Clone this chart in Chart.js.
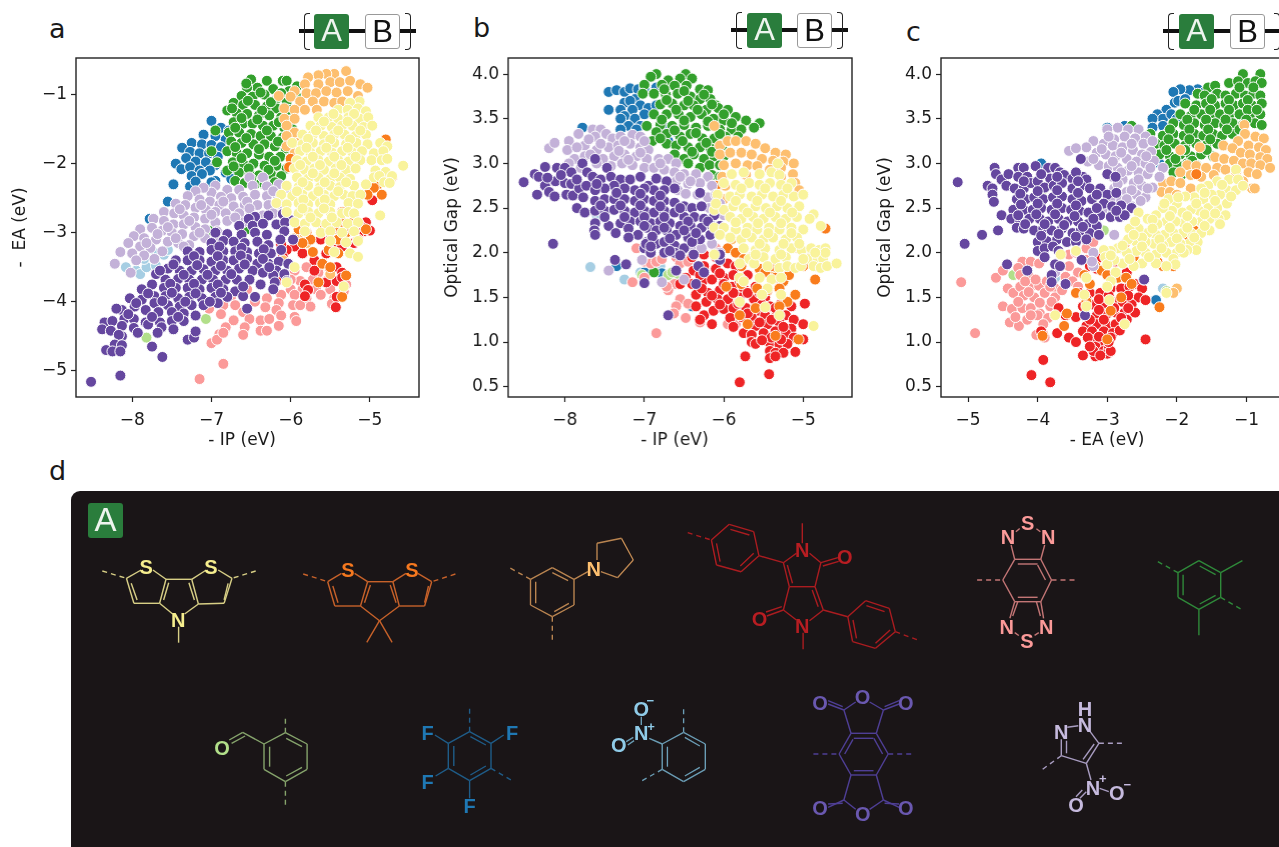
<!DOCTYPE html>
<html>
<head>
<meta charset="utf-8">
<title>IP, EA and optical gap by A block</title>
<script src="https://cdn.jsdelivr.net/npm/chart.js@4"></script>
<style>
  html, body { margin: 0; width: 1279px; height: 847px; overflow: hidden; background: #fff; }
  body { position: relative; font-family: "DejaVu Sans", sans-serif; color: #1a1a1a; }
  canvas { position: absolute; }
  .letter { position: absolute; font-size: 27px; line-height: 30px; }
  .bar { position: absolute; height: 4px; background: #111; top: 29px; }
  .brace { position: absolute; top: 13px; width: 6px; height: 37px; border: 1.8px solid #222; box-sizing: border-box; }
  .box { position: absolute; top: 14px; width: 35px; height: 35px; box-sizing: border-box; border-radius: 3px;
         font: 31px/34px "Liberation Sans", sans-serif; text-align: center; }
  .boxA { background: #2a7d3c; color: #eef5ee; }
  .boxB { background: #fff; color: #111; border: 1px solid #999; }
  #panel { position: absolute; left: 71px; top: 491px; width: 1240px; height: 400px; background: #1a1517; border-radius: 9px; }
  #mols { position: absolute; left: 0; top: 0; }
</style>
</head>
<body>
<div class="letter" style="left:49px;top:14px">a</div>
<div class="letter" style="left:473px;top:13px">b</div>
<div class="letter" style="left:906px;top:17px">c</div>
<div class="letter" style="left:49px;top:456px">d</div>
<canvas id="chartA"></canvas>
<canvas id="chartB"></canvas>
<canvas id="chartC"></canvas>
<div id="panel"></div>
<svg id="mols" width="1279" height="847"></svg>

<script>
const seriesColors = ['#a6cee3', '#1f78b4', '#b2df8a', '#33a02c', '#fb9a99', '#ee2426', '#fdbf6f', '#f97c1c', '#c3b1d8', '#65479f', '#f9f39b'];
const ipTicks = [-8, -7, -6, -5];
const eaTicks = [-5, -4, -3, -2, -1];
const gapTicks = [0.5, 1, 1.5, 2, 2.5, 3, 3.5, 4];

// panel a: [-IP, -EA]
const aLightBlue = [[-8.08,-3.5],[-7.95,-3.55],[-7.9,-3.6],[-7.82,-3.5],[-7.7,-3.48],[-7.85,-3.38],[-7.7,-3.3],[-7.6,-3.32],[-7.55,-3.25]];
const aBlue = [[-7,-1.38],[-6.88,-1.48],[-6.78,-1.52],[-7.1,-1.58],[-6.95,-1.6],[-6.82,-1.65],[-7.25,-1.7],[-7.12,-1.72],[-7,-1.73],[-6.88,-1.76],[-7.37,-1.77],[-7.27,-1.83],[-7.15,-1.85],[-7.03,-1.85],[-6.92,-1.9],[-7.32,-1.92],[-7.2,-1.97],[-7.07,-1.98],[-6.95,-2.02],[-7.45,-2],[-7.38,-2.08],[-7.27,-2.05],[-7.15,-2.1],[-7.02,-2.1],[-6.82,-2.13],[-7.25,-2.18],[-7.12,-2.15],[-6.72,-2.12],[-6.95,-2.25],[-7.48,-2.3],[-7.27,-2.33],[-7.2,-2.26],[-6.75,-2.22],[-7,-2.27],[-7.78,-2.8],[-7.55,-2.55]];
const aLightGreen = [[-7.07,-4.25],[-7.82,-4.52]];
const aGreen = [[-6.5,-.78],[-6.3,-.8],[-6.1,-.8],[-6.05,-.8],[-6.42,-.9],[-6.55,-.9],[-6.22,-.92],[-6.02,-.95],[-5.92,-.88],[-6.62,-1.02],[-6.48,-1.03],[-6.33,-1],[-6.17,-1.05],[-6.05,-1.1],[-5.93,-1.02],[-6.72,-1.12],[-6.6,-1.15],[-6.45,-1.15],[-6.3,-1.17],[-6.18,-1.2],[-6.03,-1.22],[-6.8,-1.23],[-6.68,-1.27],[-6.55,-1.28],[-6.4,-1.3],[-6.27,-1.3],[-6.12,-1.33],[-6,-1.38],[-6.72,-1.4],[-6.6,-1.42],[-6.48,-1.42],[-6.35,-1.45],[-6.22,-1.45],[-6.08,-1.48],[-5.98,-1.5],[-6.95,-1.52],[-6.78,-1.55],[-6.65,-1.55],[-6.5,-1.57],[-6.38,-1.6],[-6.25,-1.6],[-6.1,-1.62],[-6,-1.65],[-6.75,-1.68],[-6.62,-1.7],[-6.47,-1.72],[-6.33,-1.72],[-6.2,-1.75],[-6.06,-1.78],[-7,-1.82],[-6.8,-1.82],[-6.68,-1.85],[-6.55,-1.85],[-6.4,-1.87],[-6.27,-1.9],[-6.13,-1.9],[-6,-1.92],[-6.93,-1.98],[-6.73,-1.98],[-6.6,-2],[-6.47,-2],[-6.33,-2.03],[-6.18,-2.03],[-6.05,-2.07],[-6.8,-2.1],[-6.65,-2.13],[-6.52,-2.15],[-6.4,-2.17],[-6.25,-2.15],[-6.12,-2.18],[-6.7,-2.25],[-6.58,-2.28],[-6.45,-2.3],[-6.33,-2.3],[-6.2,-2.27],[-6.55,-2.95],[-7,-2.97],
  [-6.56,-.84],[-6.38,-.97],[-6.12,-.98],[-6.54,-1.09],[-6.25,-1.11],[-6.74,-1.2],[-6.36,-1.23],[-6.62,-1.34],[-6.42,-1.36],[-6.15,-1.4],[-6.7,-1.48],[-6.3,-1.52],[-6.56,-1.63],[-6.16,-1.68],[-6.7,-1.76],[-6.4,-1.79],[-6.62,-1.92],[-6.2,-1.96],[-6.53,-2.07],[-6.28,-2.09],[-6.72,-2.04],[-6.5,-2.22]];
const aPink = [[-5.95,-3.55],[-5.8,-3.5],[-5.65,-3.58],[-5.88,-3.7],[-6,-3.68],[-5.72,-3.68],[-5.55,-3.7],[-5.4,-3.7],[-6,-3.82],[-5.85,-3.82],[-5.68,-3.82],[-5.5,-3.82],[-5.3,-3.75],[-6.12,-3.9],[-5.95,-3.9],[-5.8,-3.95],[-5.62,-3.9],[-5.45,-3.95],[-5.33,-3.85],[-6.3,-3.95],[-6.15,-4.02],[-5.97,-4.05],[-5.75,-4.07],[-5.48,-4.03],[-6.65,-3.85],[-6.75,-3.92],[-6.55,-3.82],[-6.45,-4],[-6.32,-4.08],[-6.18,-4.12],[-5.88,-4.05],[-6.85,-4.05],[-6.7,-4.05],[-6.6,-4.15],[-7.03,-4.1],[-6.88,-4.18],[-6.72,-4.27],[-6.52,-4.25],[-6.38,-4.27],[-6.27,-4.25],[-6.12,-4.2],[-5.95,-4.22],[-5.93,-4.28],[-6.82,-4.37],[-6.58,-4.37],[-6.38,-4.42],[-6.3,-4.42],[-6.15,-4.35],[-6.9,-4.47],[-6.6,-4.48],[-7,-4.6],[-6.93,-4.55],[-6.85,-4.9],[-7.15,-5.12],[-6.85,-4.45]];
const aRed = [[-4.97,-2.53],[-5.05,-2.85],[-5.12,-2.9],[-5.08,-2.98],[-5,-2.97],[-5.15,-3.05],[-5.3,-3],[-5.5,-3.1],[-5.62,-3.1],[-5.8,-3.15],[-5.95,-3.2],[-6.05,-3.25],[-6.12,-3.17],[-6.1,-3.35],[-5.85,-3.3],[-5.7,-3.4],[-5.55,-3.3],[-5.45,-3.25],[-5.35,-3.2],[-5.2,-3.15],[-5.6,-3.45],[-5.5,-3.55],[-5.42,-3.5],[-5.35,-3.58],[-5.7,-3.55],[-5.82,-3.75],[-5.78,-3.83],[-5.82,-3.92],[-5.55,-3.72],[-5.42,-3.7],[-5.35,-3.65],[-5.42,-3.93],[-5.43,-4.08],[-6.15,-3.68]];
const aLightOrange = [[-5.3,-.66],[-5.45,-.7],[-5.55,-.7],[-5.65,-.72],[-5.78,-.75],[-5.82,-.85],[-5.65,-.85],[-5.5,-.82],[-5.38,-.82],[-5.25,-.8],[-5.12,-.85],[-5.03,-.9],[-5.95,-.95],[-5.8,-.98],[-5.68,-.98],[-5.55,-.95],[-5.42,-.97],[-5.28,-.95],[-5.15,-1.02],[-6.15,-1.02],[-6,-1.03],[-5.88,-1.1],[-5.72,-1.1],[-5.58,-1.1],[-5.45,-1.12],[-5.35,-1.1],[-6.08,-1.2],[-5.95,-1.22],[-5.82,-1.22],[-5.67,-1.22],[-6.08,-1.35],[-5.95,-1.35],[-6.05,-1.45],[-5.95,-1.55],[-6.05,-1.6],[-5.9,-1.7],[-6.05,-1.75],[-5.95,-1.85],[-5.85,-3],[-5.95,-3.08],[-5.8,-3.15],[-6.1,-3.4],[-5.5,-3.6]];
const aOrange = [[-6,-1.93],[-6.02,-2.05],[-4.8,-1.65],[-4.72,-2.2],[-4.82,-2.25],[-4.9,-2.3],[-4.85,-2.45],[-4.95,-2.35],[-5.03,-2.45],[-5.2,-2.75],[-5.22,-2.85],[-5.35,-2.85],[-5.05,-2.95],[-5.3,-3],[-5.45,-2.95],[-5.6,-2.9],[-5.8,-3],[-5.9,-2.95],[-5.75,-3.1],[-5.85,-3.15],[-5.72,-3.28],[-5.52,-3.25],[-5.4,-3.3],[-5.25,-3.3],[-5.6,-3.45],[-5.5,-3.5],[-5.65,-3.72],[-5.3,-3.62],[-5.35,-3.93],[-5.25,-2.5],[-5.35,-2.7],[-5.15,-3.1],[-5.4,-3.1]];
const aLavender = [[-6.52,-2.2],[-6.35,-2.2],[-6.48,-2.32],[-6.3,-2.33],[-6.15,-2.3],[-6.05,-2.35],[-6.95,-2.32],[-6.8,-2.38],[-6.65,-2.38],[-7,-2.42],[-7.1,-2.35],[-7.2,-2.4],[-6.88,-2.48],[-6.75,-2.5],[-6.6,-2.48],[-6.45,-2.45],[-6.3,-2.47],[-6.17,-2.45],[-7.3,-2.47],[-7.15,-2.52],[-7.02,-2.55],[-6.9,-2.6],[-6.72,-2.62],[-6.58,-2.6],[-6.42,-2.6],[-6.28,-2.6],[-6.15,-2.58],[-7.45,-2.58],[-7.33,-2.6],[-7.2,-2.64],[-7.07,-2.67],[-6.95,-2.7],[-6.82,-2.72],[-6.65,-2.72],[-6.5,-2.72],[-6.35,-2.75],[-6.22,-2.72],[-7.6,-2.7],[-7.47,-2.72],[-7.35,-2.75],[-7.22,-2.78],[-7.08,-2.8],[-6.95,-2.85],[-6.8,-2.83],[-6.6,-2.85],[-6.45,-2.85],[-7.73,-2.8],[-7.6,-2.83],[-7.48,-2.88],[-7.35,-2.88],[-7.2,-2.92],[-7.08,-2.95],[-6.93,-2.98],[-7.9,-2.95],[-7.75,-2.93],[-7.62,-2.97],[-7.5,-3],[-7.37,-3.02],[-7.22,-3.05],[-7.08,-3.08],[-6.95,-3.1],[-7.98,-3.05],[-7.85,-3.08],[-7.7,-3.1],[-7.55,-3.13],[-7.42,-3.15],[-7.28,-3.18],[-8.05,-3.15],[-7.9,-3.2],[-7.77,-3.22],[-7.62,-3.27],[-8.15,-3.28],[-8,-3.3],[-7.85,-3.33],[-7.72,-3.38],[-8.22,-3.45],[-7.95,-3.4],[-8.02,-3.58],
  [-6.55,-2.55],[-6.85,-2.55],[-7.13,-2.6],[-7.4,-2.66],[-6.7,-2.78],[-7,-2.74],[-7.28,-2.83],[-7.55,-2.92],[-6.52,-2.65],[-6.22,-2.4],[-7.68,-3.02],[-7.15,-3],[-7.45,-3.08],[-7.82,-3.15],[-7.35,-3.2]];
const aPurple = [[-6.45,-2.77],[-6.53,-2.8],[-6.28,-2.75],[-6.1,-2.73],[-6,-2.82],[-6.65,-2.9],[-6.48,-2.9],[-6.35,-2.87],[-6.18,-2.88],[-6.07,-2.85],[-6.95,-3],[-6.8,-3.02],[-6.62,-3.03],[-6.45,-3],[-6.3,-3.03],[-6.08,-2.98],[-5.97,-3.1],[-7,-3.15],[-6.85,-3.12],[-6.72,-3.13],[-6.58,-3.15],[-6.42,-3.13],[-6.28,-3.18],[-6.13,-3.1],[-7.3,-3.27],[-7.15,-3.28],[-7,-3.25],[-6.85,-3.27],[-6.7,-3.27],[-6.55,-3.28],[-6.4,-3.3],[-6.25,-3.3],[-6.12,-3.25],[-7.45,-3.4],[-7.3,-3.4],[-7.15,-3.4],[-7,-3.42],[-6.85,-3.4],[-6.72,-3.4],[-6.55,-3.38],[-6.42,-3.45],[-6.28,-3.45],[-6.15,-3.42],[-6.03,-3.45],[-7.55,-3.52],[-7.4,-3.55],[-7.25,-3.55],[-7.1,-3.53],[-6.95,-3.55],[-6.8,-3.55],[-6.65,-3.52],[-6.48,-3.55],[-6.35,-3.58],[-6.18,-3.55],[-7.7,-3.6],[-7.58,-3.68],[-7.42,-3.67],[-7.28,-3.68],[-7.12,-3.68],[-6.98,-3.68],[-6.82,-3.68],[-6.68,-3.68],[-6.52,-3.68],[-6.22,-3.62],[-6.08,-3.6],[-7.75,-3.75],[-7.6,-3.8],[-7.45,-3.8],[-7.3,-3.8],[-7.15,-3.82],[-7,-3.8],[-6.85,-3.82],[-6.7,-3.85],[-6.38,-3.75],[-6.2,-3.72],[-6.05,-3.7],[-7.88,-3.82],[-7.72,-3.92],[-7.58,-3.92],[-7.42,-3.95],[-7.28,-3.93],[-7.12,-3.95],[-6.95,-3.93],[-6.8,-3.93],[-6.6,-3.92],[-6.45,-3.93],[-6.22,-3.82],[-8.03,-3.95],[-7.88,-3.97],[-7.72,-4.02],[-7.55,-4.05],[-7.4,-4.07],[-7.25,-4.05],[-7.1,-4.05],[-6.92,-4.02],[-6.55,-4.1],[-8.13,-4.12],[-7.97,-4.07],[-7.83,-4.12],[-7.67,-4.15],[-7.5,-4.15],[-7.35,-4.17],[-7.2,-4.2],[-8.2,-4.1],[-8.1,-4.25],[-7.98,-4.25],[-7.83,-4.3],[-7.65,-4.3],[-7.5,-4.28],[-7.35,-4.28],[-8.35,-4.3],[-8.25,-4.28],[-8.13,-4.35],[-7.98,-4.38],[-7.8,-4.33],[-7.63,-4.37],[-7.48,-4.4],[-8.38,-4.4],[-8.27,-4.42],[-7.93,-4.45],[-7.68,-4.45],[-8.13,-4.5],[-8.17,-4.48],[-7.3,-4.55],[-7.22,-4.52],[-7.2,-4.43],[-8.22,-4.62],[-8.13,-4.63],[-8.33,-4.7],[-8.25,-4.72],[-8.15,-4.72],[-7.75,-4.65],[-7.62,-4.8],[-8.15,-5.07],[-8.52,-5.16],
  [-6.9,-3.2],[-6.62,-3.22],[-6.34,-3.24],[-7.22,-3.34],[-6.92,-3.34],[-6.63,-3.33],[-6.35,-3.38],[-7.48,-3.46],[-7.18,-3.47],[-6.88,-3.48],[-6.58,-3.46],[-6.27,-3.5],[-7.65,-3.55],[-7.35,-3.61],[-7.05,-3.61],[-6.75,-3.6],[-7.52,-3.74],[-7.22,-3.74],[-6.92,-3.75],[-6.6,-3.78],[-7.8,-3.88],[-7.5,-3.87],[-7.2,-3.88],[-6.88,-3.87],[-7.95,-4.02],[-7.62,-3.99],[-7.33,-4],[-7.02,-4],[-8.05,-4.18],[-7.75,-4.22],[-7.42,-4.22]];
const aYellow = [[-5.13,-1.1],[-5.25,-1.12],[-5.4,-1.22],[-5.28,-1.22],[-5.15,-1.2],[-5.05,-1.24],[-5.65,-1.33],[-5.52,-1.33],[-5.4,-1.35],[-5.27,-1.33],[-5.13,-1.35],[-5.02,-1.33],[-5.75,-1.45],[-5.62,-1.45],[-5.48,-1.47],[-5.35,-1.45],[-5.22,-1.45],[-5.08,-1.47],[-4.97,-1.45],[-5.85,-1.58],[-5.72,-1.58],[-5.58,-1.6],[-5.45,-1.58],[-5.32,-1.58],[-5.18,-1.6],[-5.05,-1.58],[-5.98,-1.7],[-5.85,-1.72],[-5.72,-1.7],[-5.58,-1.72],[-5.45,-1.7],[-5.3,-1.72],[-5.17,-1.7],[-5.03,-1.72],[-4.87,-1.7],[-4.78,-1.75],[-5.88,-1.82],[-5.75,-1.84],[-5.62,-1.82],[-5.48,-1.84],[-5.35,-1.82],[-5.22,-1.84],[-5.1,-1.82],[-4.95,-1.85],[-4.83,-1.82],[-5.92,-1.95],[-5.8,-1.97],[-5.65,-1.95],[-5.52,-1.97],[-5.4,-1.95],[-5.27,-1.97],[-5.12,-1.95],[-4.98,-1.95],[-4.85,-1.95],[-4.78,-1.93],[-5.95,-2.07],[-5.82,-2.09],[-5.7,-2.07],[-5.58,-2.09],[-5.43,-2.07],[-5.3,-2.09],[-5.18,-2.07],[-4.93,-2.1],[-4.8,-2.12],[-4.58,-2.03],[-5.92,-2.2],[-5.78,-2.22],[-5.65,-2.2],[-5.5,-2.22],[-5.38,-2.2],[-5.25,-2.22],[-4.95,-2.2],[-4.72,-2.18],[-4.88,-2.18],[-6.05,-2.32],[-5.9,-2.34],[-5.78,-2.32],[-5.63,-2.34],[-5.5,-2.32],[-5.38,-2.34],[-5.2,-2.32],[-5.05,-2.3],[-4.82,-2.27],[-4.75,-2.28],[-6.12,-2.45],[-5.98,-2.47],[-5.85,-2.45],[-5.72,-2.47],[-5.58,-2.45],[-5.45,-2.47],[-5.33,-2.45],[-5.22,-2.47],[-5.12,-2.45],[-6.18,-2.57],[-6.05,-2.59],[-5.9,-2.57],[-5.78,-2.59],[-5.63,-2.57],[-5.5,-2.59],[-5.27,-2.57],[-5.15,-2.58],[-6.05,-2.7],[-5.9,-2.72],[-5.78,-2.7],[-5.65,-2.72],[-5.5,-2.7],[-5.35,-2.72],[-5.27,-2.7],[-5.2,-2.72],[-4.87,-2.75],[-5.95,-2.85],[-5.82,-2.87],[-5.68,-2.85],[-5.55,-2.87],[-5.42,-2.85],[-5.28,-2.87],[-5.15,-2.85],[-5.82,-2.98],[-5.62,-3],[-5.5,-2.98],[-5.35,-3],[-5.2,-2.98],[-5.5,-3.12],[-5.3,-3.14],[-5.15,-3.12],[-5.45,-3.28],[-5.25,-3.3],[-5.15,-3.35],[-5.95,-3.5],[-6.05,-3.72],[-5.33,-3.78],
  [-5.46,-1.28],[-5.2,-1.28],[-5.58,-1.39],[-5.28,-1.39],[-5.68,-1.52],[-5.4,-1.52],[-5.12,-1.52],[-5.78,-1.64],[-5.5,-1.65],[-5.25,-1.65],[-5.8,-1.77],[-5.55,-1.77],[-5.28,-1.77],[-5.72,-1.9],[-5.45,-1.9],[-5.18,-1.9],[-5.88,-2.02],[-5.63,-2.02],[-5.36,-2.02],[-5.72,-2.14],[-5.45,-2.14],[-5.85,-2.27],[-5.57,-2.27],[-5.3,-2.27],[-5.92,-2.4],[-5.65,-2.4],[-5.4,-2.4],[-5.84,-2.52],[-5.57,-2.52],[-5.85,-2.65],[-5.58,-2.65],[-5.75,-2.78],[-5.48,-2.78]];

// panel b: [-IP, optical gap]
const bLightBlue = [[-7.68,1.84],[-7.25,1.7],[-7.6,2.42],[-6.95,1.85],[-6.8,1.85],[-7.05,1.78],[-6.9,1.8]];
const bBlue = [[-7.45,3.8],[-7.35,3.82],[-7.25,3.8],[-7.18,3.84],[-7.08,3.83],[-7,3.85],[-6.85,3.85],[-7.12,3.72],[-7.25,3.68],[-7.18,3.7],[-7.05,3.65],[-6.95,3.62],[-6.85,3.65],[-7.3,3.6],[-7.15,3.6],[-7,3.55],[-7.45,3.6],[-7.25,3.53],[-7.12,3.5],[-7.3,3.5],[-7.05,3.42],[-7.2,3.42],[-7.1,3.38],[-7.3,3.38],[-6.75,3.4],[-6.85,3.3],[-6.6,3.35],[-6.7,3.25],[-7.78,3.4],[-7.35,1.85],[-7,1.78],[-6.78,1.77],[-6.4,1.4]];
const bLightGreen = [[-7.03,1.75],[-6.62,1.72],[-6.7,1.75],[-6.65,1.78]];
const bGreen = [[-6.85,4],[-6.92,3.97],[-6.48,4],[-6.4,3.95],[-6.55,3.95],[-6.7,3.93],[-6.78,3.88],[-7,3.88],[-6.62,3.87],[-6.47,3.87],[-6.3,3.83],[-6.2,3.82],[-7.02,3.78],[-6.88,3.78],[-6.73,3.77],[-6.58,3.78],[-6.42,3.75],[-6.3,3.72],[-6.17,3.72],[-6.1,3.65],[-6.8,3.66],[-6.65,3.67],[-6.5,3.65],[-6.38,3.65],[-6.22,3.6],[-6.07,3.62],[-5.95,3.6],[-6.88,3.55],[-6.72,3.55],[-6.57,3.55],[-6.42,3.52],[-6.28,3.55],[-6.13,3.5],[-6,3.48],[-5.85,3.52],[-5.72,3.48],[-5.55,3.45],[-5.62,3.4],[-6.97,3.42],[-6.8,3.43],[-6.65,3.42],[-6.5,3.43],[-6.35,3.4],[-6.2,3.42],[-6.05,3.38],[-5.9,3.38],[-5.78,3.38],[-6.85,3.35],[-6.72,3.33],[-6.55,3.3],[-6.42,3.33],[-6.27,3.28],[-6.12,3.28],[-5.98,3.3],[-5.82,3.3],[-6.9,3.25],[-6.72,3.22],[-6.6,3.2],[-6.45,3.18],[-6.3,3.18],[-6.17,3.17],[-6.02,3.2],[-6.62,3.1],[-6.5,3.05],[-6.38,3.1],[-6.25,3.05],[-6.12,3.08],[-6,3.08],[-6.45,3],[-6.3,2.95],[-6.18,2.98],[-6.05,2.98],[-6.15,2.87],[-6.05,2.85],[-6.88,1.78],
  [-6.75,3.83],[-6.5,3.81],[-6.25,3.77],[-6.72,3.71],[-6.45,3.7],[-6.15,3.66],[-6.6,3.6],[-6.33,3.6],[-6,3.55],[-6.78,3.49],[-6.5,3.48],[-6.2,3.47],[-5.9,3.45],[-6.62,3.37],[-6.35,3.34],[-6.05,3.33],[-6.8,3.28],[-6.52,3.25],[-6.22,3.23],[-6.4,3.13],[-6.15,3.13]];
const bPink = [[-7.15,1.67],[-7.1,2.05],[-7,1.9],[-6.92,1.88],[-6.85,1.9],[-6.78,1.93],[-6.7,2.05],[-6.6,1.95],[-6.55,1.88],[-6.45,1.9],[-6.62,1.65],[-6.55,1.48],[-6.6,1.4],[-6.63,1.32],[-6.45,1.43],[-6.48,1.27],[-6.3,1.22],[-6.7,1.58],[-6.85,1.1],[-6.72,1.62],[-7,1.72],[-5.95,1.2],[-5.85,1.2],[-6.1,2.05]];
const bRed = [[-6.4,1.95],[-6.25,1.98],[-6.1,1.95],[-6.38,1.8],[-6.48,1.72],[-6.55,1.65],[-6.25,1.85],[-6.1,1.82],[-5.95,1.88],[-5.85,1.85],[-6.4,1.65],[-6.27,1.68],[-6.15,1.7],[-6,1.72],[-5.88,1.75],[-5.7,1.75],[-6.35,1.53],[-6.2,1.55],[-6.05,1.58],[-5.9,1.62],[-5.75,1.6],[-5.6,1.62],[-6.35,1.4],[-6.22,1.45],[-6.08,1.48],[-5.95,1.48],[-5.8,1.5],[-5.62,1.48],[-5.48,1.5],[-6.25,1.3],[-6.13,1.35],[-6,1.37],[-5.88,1.38],[-5.72,1.38],[-5.58,1.35],[-5.42,1.4],[-5.28,1.43],[-5.15,1.4],[-6.3,1.25],[-6.15,1.2],[-5.92,1.27],[-5.78,1.28],[-5.65,1.28],[-5.48,1.3],[-5.33,1.33],[-5.22,1.3],[-5.12,1.25],[-5.88,1.17],[-5.75,1.1],[-5.6,1.18],[-5.45,1.2],[-5.3,1.22],[-5.15,1.15],[-5,1.2],[-4.98,1.43],[-5.65,1.08],[-5.5,1.1],[-5.35,1.12],[-5.22,1.1],[-5.12,1.05],[-5,1.03],[-5.65,1],[-5.6,.98],[-5.42,.99],[-5.3,.97],[-5.2,.98],[-5.1,.89],[-5.42,.9],[-5.35,.88],[-5.25,.88],[-5.42,.82],[-5.35,.84],[-5.73,.84],[-5.43,.64],[-5.8,.55],
  [-6.3,1.75],[-6.05,1.77],[-5.8,1.68],[-6.28,1.6],[-6,1.65],[-5.7,1.55],[-6.15,1.52],[-5.88,1.55],[-5.55,1.55],[-6.05,1.42],[-5.82,1.43],[-5.52,1.42],[-5.35,1.38],[-5.7,1.32],[-5.4,1.25],[-5.55,1.22],[-5.25,1.17],[-5.4,1.05],[-5.28,1.03],[-5.52,1.02]];
const bLightOrange = [[-6.12,3.42],[-6.05,3.2],[-5.95,3.25],[-5.85,3.25],[-5.72,3.25],[-5.6,3.22],[-5.48,3.17],[-5.35,3.12],[-5.22,3.1],[-6.05,3.1],[-5.92,3.12],[-5.78,3.12],[-5.65,3.1],[-5.52,3.05],[-5.38,3.03],[-5.25,3.02],[-5.12,3],[-6,2.98],[-5.85,3],[-5.7,2.98],[-5.58,2.97],[-5.42,2.93],[-5.28,2.95],[-5.13,2.88],[-6.02,2.85],[-5.9,2.88],[-5.72,2.87],[-5.28,2.85],[-5.1,2.78],[-6.1,2.75],[-5.98,2.75],[-6.1,2.62],[-6,2.6],[-5.05,2.7],[-5,2.65],[-5.9,2.15],[-5.65,1.95],[-5.4,1.78]];
const bOrange = [[-5.95,2.05],[-5.85,2],[-5.75,1.93],[-5.62,1.9],[-5.55,1.82],[-5.48,1.78],[-5.35,1.72],[-5.25,1.68],[-5.18,1.75],[-5.4,1.85],[-5.97,1.62],[-5.78,1.65],[-5.58,1.6],[-5.45,1.58],[-5.3,1.6],[-5.1,1.53],[-5.8,1.3],[-5.6,1.38],[-5.2,1.45],[-5.3,1.4],[-5.7,1.2],[-5.35,1.07],[-5.06,1.03],[-4.72,2.27],[-4.85,1.7],[-4.9,1.95],[-4.85,1.85],[-5.05,2.05],[-5,1.85],[-6.1,2.75],[-5.78,1.85]];
const bLavender = [[-8.2,3.17],[-8.13,3.23],[-7.95,3.25],[-7.97,3.15],[-7.83,3.33],[-7.65,3.38],[-7.55,3.38],[-7.75,3.2],[-7.85,3.18],[-7.62,3.3],[-7.48,3.33],[-7.4,3.28],[-7.3,3.3],[-7.15,3.32],[-7.05,3.3],[-7.88,3.05],[-7.75,3.08],[-7.6,3.15],[-7.45,3.18],[-7.33,3.2],[-7.18,3.22],[-7.05,3.18],[-6.95,3.15],[-7.52,3.05],[-7.38,3.08],[-7.25,3.1],[-7.1,3.08],[-6.97,3.05],[-6.82,3.05],[-6.7,3.05],[-6.6,3],[-7.6,3],[-7.42,2.97],[-7.28,3],[-7.15,2.98],[-7,2.95],[-6.88,2.95],[-6.75,2.93],[-6.62,2.9],[-6.5,2.88],[-7.95,3],[-7.8,2.95],[-6.35,2.88],[-6.2,2.85],[-6.45,2.77],[-6.3,2.78],[-6.15,2.75],[-6.58,2.7],[-6.48,2.66],[-6.33,2.65],[-6.2,2.62],[-6.1,2.65],[-6.05,2.55],[-6.18,2.5],[-6.1,2.45],[-6,2.42],[-6.55,1.98],[-6.4,2.08],[-6.28,2.05],[-6.15,2.1],[-6.05,2],[-7.45,1.8],[-7.03,1.92],[-6.78,1.67],[-6.5,1.7],[-6.72,2.8],[-6.6,2.8],
  [-7.7,3.27],[-7.55,3.22],[-7.25,3.25],[-7,3.25],[-7.68,3.1],[-7.32,3.14],[-7.05,3.12],[-6.8,3],[-7.2,3.04],[-6.55,2.85],[-6.42,2.8]];
const bPurple = [[-8.52,2.79],[-8.38,2.88],[-8.33,2.85],[-8.25,2.96],[-8.35,2.65],[-8.25,2.75],[-8.2,2.68],[-8.13,2.63],[-8.12,2.8],[-8.1,2.95],[-8.22,2.84],[-8,2.95],[-7.92,2.9],[-7.98,2.65],[-7.9,2.64],[-8,2.78],[-7.92,2.77],[-7.82,2.72],[-7.73,2.75],[-7.78,3],[-7.72,2.9],[-7.65,2.85],[-7.55,2.82],[-7.62,3.05],[-7.47,2.95],[-7.42,2.85],[-7.3,2.82],[-7.18,2.82],[-7.05,2.85],[-6.95,2.75],[-6.85,2.83],[-6.72,2.8],[-6.62,2.72],[-6.75,2.7],[-6.88,2.7],[-7,2.72],[-7.12,2.7],[-7.25,2.72],[-7.38,2.75],[-7.5,2.72],[-7.62,2.7],[-7.77,2.62],[-7.85,2.5],[-7.75,2.45],[-7.62,2.58],[-7.5,2.6],[-7.38,2.6],[-7.25,2.6],[-7.12,2.58],[-7,2.6],[-6.88,2.58],[-6.75,2.58],[-6.62,2.56],[-6.5,2.52],[-6.4,2.5],[-6.28,2.52],[-6.3,2.67],[-7.62,2.47],[-7.5,2.47],[-7.38,2.48],[-7.25,2.47],[-7.12,2.45],[-7,2.47],[-6.88,2.45],[-6.75,2.47],[-6.62,2.45],[-6.5,2.4],[-6.37,2.4],[-6.25,2.38],[-6.12,2.42],[-7.62,2.33],[-7.45,2.3],[-7.3,2.33],[-7.18,2.35],[-7.05,2.35],[-6.92,2.33],[-6.8,2.35],[-6.68,2.33],[-6.55,2.3],[-6.42,2.3],[-6.28,2.28],[-6.15,2.3],[-6.05,2.3],[-7.63,2.25],[-7.62,2.2],[-7.36,2.22],[-7.2,2.27],[-7.08,2.2],[-6.97,2.28],[-6.85,2.25],[-6.72,2.25],[-6.6,2.2],[-6.45,2.17],[-6.3,2.15],[-6.17,2.2],[-7.2,2.17],[-6.97,2.12],[-6.85,2.1],[-6.75,2.12],[-6.62,2.08],[-6.5,2.05],[-6.4,2.12],[-7,2.05],[-6.92,2],[-6.98,2.1],[-6.75,2],[-6.62,2],[-6.55,1.97],[-6.38,1.98],[-8.15,2.1],[-7.37,1.92],[-7.23,1.87],[-7,1.66],[-6.7,1.3],[-6.6,1.8],[-6.32,1.85],[-6.25,1.78],[-6.35,1.65],[-6.05,1.92],[-6.05,1.98],
  [-8.05,2.87],[-7.85,2.82],[-7.6,2.77],[-7.35,2.67],[-7.05,2.66],[-6.8,2.64],[-7.55,2.53],[-7.3,2.53],[-7.05,2.53],[-6.8,2.52],[-6.55,2.5],[-7.5,2.4],[-7.25,2.4],[-7,2.4],[-6.75,2.4],[-6.45,2.35],[-6.2,2.35],[-7,2.3],[-6.75,2.28],[-6.5,2.25],[-6.35,2.22],[-6.9,2.18],[-6.68,2.16],[-6.92,2.07],[-6.68,2.02]];
const bYellow = [[-5.32,3],[-5.9,2.88],[-5.75,2.9],[-5.55,2.88],[-5.4,2.9],[-5.3,2.87],[-6,2.78],[-5.85,2.76],[-5.68,2.78],[-5.55,2.76],[-5.42,2.78],[-5.28,2.76],[-5.15,2.78],[-6.08,2.65],[-5.92,2.63],[-5.8,2.65],[-5.65,2.63],[-5.52,2.65],[-5.38,2.63],[-5.25,2.65],[-5.12,2.63],[-5,2.65],[-6.12,2.48],[-6,2.48],[-5.88,2.52],[-5.75,2.5],[-5.6,2.52],[-5.47,2.5],[-5.33,2.52],[-5.2,2.5],[-5.05,2.52],[-5.92,2.4],[-5.78,2.38],[-5.63,2.4],[-5.5,2.38],[-5.35,2.4],[-5.22,2.38],[-5.08,2.4],[-4.87,2.43],[-6.12,2.28],[-6,2.28],[-5.85,2.26],[-5.7,2.28],[-5.58,2.26],[-5.43,2.28],[-5.3,2.26],[-5.15,2.28],[-5,2.26],[-4.92,2.38],[-6.05,2.2],[-5.92,2.17],[-5.78,2.15],[-5.65,2.17],[-5.5,2.15],[-5.38,2.17],[-5.22,2.15],[-5.08,2.17],[-4.78,2.3],[-5.75,2.05],[-5.6,2.03],[-5.48,2.05],[-5.3,2.03],[-5.15,2.05],[-5.02,2.03],[-4.9,2.05],[-4.8,2.03],[-4.72,2.05],[-5.68,1.93],[-5.5,1.95],[-5.35,1.93],[-5.22,1.95],[-5.05,2.1],[-4.92,1.93],[-4.82,1.95],[-4.75,1.93],[-4.72,2],[-5.45,1.85],[-5.3,1.83],[-5.2,1.85],[-5.1,1.83],[-4.87,1.85],[-4.78,1.83],[-4.7,1.85],[-4.58,1.88],[-5.03,1.85],[-5.8,1.72],[-5.55,1.72],[-5.4,1.7],[-5.28,1.72],[-5.75,1.68],[-5.45,1.6],[-5.28,1.53],[-5.52,1.53],[-5.8,1.45],[-5.48,1.39],[-5.3,1.3],[-4.87,1.18],[-6.12,1.98],[-6.1,2.55],[-5.8,1.88],[-5.62,1.88],
  [-5.78,2.72],[-5.48,2.72],[-5.2,2.72],[-5.85,2.58],[-5.58,2.58],[-5.28,2.58],[-5.7,2.45],[-5.42,2.45],[-5.14,2.45],[-5.85,2.34],[-5.57,2.33],[-5.28,2.33],[-5.72,2.22],[-5.44,2.22],[-5.15,2.22],[-5.55,2.1],[-5.25,2.1],[-5.6,1.98],[-5.28,1.98],[-4.85,2],[-5,1.93]];

// panel c: [-EA, optical gap]
const cLightBlue = [[-3.75,1.72],[-3.5,2.2],[-2.2,1.6]];
const cBlue = [[-1.7,3.83],[-1.82,3.82],[-1.95,3.83],[-2.05,3.8],[-1.6,3.8],[-1.5,3.85],[-2.03,3.68],[-2.15,3.6],[-2.28,3.55],[-2.2,3.5],[-2.35,3.5],[-1.98,3.7],[-1.88,3.72],[-2.08,3.55],[-2,3.5],[-2.2,3.42],[-2.35,3.4],[-2.12,3.35],[-3,3.4],[-2.75,3.42],[-2.25,3],[-2.3,1.47],[-3.95,3]];
const cLightGreen = [[-2.15,1.57],[-4.35,1.75],[-3.05,2.25],[-3.93,2.7]];
const cGreen = [[-1.05,4],[-.8,4],[-1.25,3.9],[-1.12,3.92],[-.98,3.9],[-.87,3.92],[-.78,3.9],[-1.55,3.85],[-1.45,3.87],[-1.7,3.78],[-1.6,3.76],[-1.42,3.78],[-1.3,3.76],[-1.15,3.78],[-1.02,3.76],[-.9,3.78],[-.8,3.76],[-1.88,3.67],[-1.72,3.65],[-1.58,3.67],[-1.45,3.65],[-1.3,3.67],[-1.18,3.65],[-1.05,3.67],[-.92,3.65],[-.78,3.67],[-1.95,3.55],[-1.8,3.53],[-1.65,3.55],[-1.5,3.53],[-1.38,3.55],[-1.25,3.53],[-1.1,3.55],[-.95,3.53],[-.8,3.55],[-2.05,3.45],[-1.9,3.43],[-1.75,3.45],[-1.6,3.43],[-1.45,3.45],[-1.32,3.43],[-1.2,3.45],[-1.05,3.43],[-.88,3.45],[-.78,3.43],[-2.38,3.33],[-2.2,3.31],[-2.05,3.33],[-1.9,3.31],[-1.75,3.33],[-1.62,3.31],[-1.48,3.33],[-1.35,3.31],[-1.2,3.33],[-2.3,3.22],[-2.18,3.2],[-2.03,3.22],[-1.88,3.2],[-1.72,3.22],[-1.58,3.2],[-1.42,3.22],[-2.25,3.1],[-2.1,3.08],[-1.95,3.1],[-1.8,3.08],[-1.65,3.1],[-1.48,3.08],[-2.1,3],[-1.98,2.98],[-1.85,3],[-1.72,2.98],[-2.05,2.9],[-1.92,2.88],[-2.65,3.42],
  [-1.1,3.85],[-.9,3.85],[-1.5,3.72],[-1.25,3.71],[-.98,3.71],[-1.75,3.6],[-1.52,3.6],[-1.25,3.6],[-.98,3.6],[-.85,3.6],[-1.85,3.49],[-1.58,3.49],[-1.3,3.49],[-1,3.49],[-2.1,3.38],[-1.82,3.38],[-1.55,3.38],[-1.28,3.38],[-1.1,3.38],[-2.12,3.27],[-1.82,3.27],[-1.52,3.27],[-2.15,3.15],[-1.88,3.15],[-1.57,3.15],[-2.02,3.05],[-1.78,3.03]];
const cPink = [[-5.1,1.67],[-4.9,1.1],[-4.6,1.72],[-4.5,1.8],[-4.43,1.6],[-4.35,1.55],[-4.22,1.9],[-4.28,1.83],[-4.1,1.9],[-3.98,1.88],[-4.25,1.75],[-4.12,1.73],[-4.25,1.62],[-4.1,1.62],[-3.98,1.63],[-3.87,1.68],[-3.75,1.6],[-4.2,1.52],[-4.05,1.5],[-3.9,1.55],[-3.75,1.5],[-3.65,1.58],[-4.5,1.4],[-4.37,1.37],[-4.22,1.38],[-4.1,1.38],[-3.97,1.32],[-3.82,1.4],[-3.7,1.38],[-4.4,1.22],[-4.27,1.18],[-4.15,1.25],[-4,1.3],[-3.85,1.27],[-4.02,1.08],[-3.9,1.05],[-3.55,1.98],[-3.45,2],[-3.3,2.05],[-3.2,2.12],[-3.55,1.85],[-3.42,1.78],[-3.3,1.92],[-3.6,1.73],[-3.5,1.68],[-3.42,1.62],[-3.15,2.25],[-3.3,2.2],
  [-4.18,1.68],[-4.03,1.7],[-3.82,1.62],[-4.13,1.56],[-3.97,1.44],[-4.28,1.45],[-3.8,1.45],[-4.32,1.28],[-4.1,1.3],[-3.92,1.2]];
const cRed = [[-3.1,1.95],[-3,1.9],[-2.88,1.9],[-3.25,1.85],[-3.15,1.82],[-2.72,1.78],[-2.6,1.65],[-2.5,1.6],[-3.4,1.55],[-3.25,1.55],[-3.1,1.55],[-2.95,1.6],[-2.8,1.6],[-2.68,1.62],[-2.55,1.5],[-2.45,1.47],[-3.35,1.4],[-3.2,1.42],[-3.05,1.42],[-2.92,1.45],[-2.78,1.45],[-2.65,1.42],[-3,1.32],[-2.87,1.33],[-2.75,1.33],[-2.6,1.33],[-3.15,1.3],[-3.7,1.38],[-3.6,1.3],[-3.45,1.28],[-3.3,1.18],[-3.15,1.2],[-3,1.18],[-2.88,1.2],[-2.72,1.25],[-3.35,1.12],[-3.22,1.12],[-3.05,1.12],[-2.92,1.1],[-2.82,1.13],[-3.72,1.1],[-3.55,1.05],[-3.45,1],[-3.2,1.02],[-3.05,1],[-2.95,1.05],[-3.93,1.1],[-3.17,.95],[-3.05,.9],[-2.98,.92],[-3.35,.85],[-3.17,.84],[-3,.87],[-2.95,.9],[-3.92,.8],[-4.09,.63],[-3.82,.55],[-2.45,1.03],[-3.95,1.12],
  [-3.3,1.48],[-3.12,1.48],[-2.98,1.52],[-2.7,1.52],[-2.9,1.38],[-2.7,1.38],[-3.12,1.36],[-3.25,1.25],[-3.05,1.25],[-2.8,1.27],[-3.28,1.05],[-3.12,1.06],[-2.98,1],[-3.2,.9],[-3.1,.85],[-3.25,.95]];
const cLightOrange = [[-1.03,3.43],[-1.02,3.33],[-.87,3.3],[-.75,3.28],[-1.12,3.25],[-.97,3.2],[-.82,3.18],[-.72,3.15],[-1.33,3.2],[-1.2,3.17],[-1.08,3.12],[-.95,3.1],[-.8,3.07],[-.7,3.05],[-1.95,3.15],[-1.67,3.18],[-1.45,3.07],[-1.32,3.05],[-1.18,3.03],[-1.05,3],[-.93,3],[-.8,2.98],[-.66,2.95],[-1.85,2.98],[-1.72,2.97],[-1.58,2.95],[-1.42,2.95],[-1.3,2.93],[-1.15,2.9],[-.97,2.9],[-.85,2.88],[-1.95,2.9],[-1.8,2.87],[-1.65,2.85],[-1.47,2.87],[-1.05,2.8],[-.92,2.72],[-.88,2.72],[-2.2,2.78],[-2.08,2.8],[-1.95,2.78],[-1.8,2.72],[-2.22,2.68],[-2.1,2.68],[-2,2.65],[-2,1.6],[-2.05,1.55]];
const cOrange = [[-3.33,1.75],[-3.17,1.85],[-3.08,1.8],[-3,1.75],[-2.85,1.72],[-2.73,1.72],[-2.65,1.65],[-3.45,1.55],[-3.3,1.45],[-3.25,1.65],[-3,1.62],[-2.8,1.5],[-2.95,1.35],[-3.58,1.32],[-3.62,1.18],[-3.93,1.07],[-3,1.03],[-2.25,1.39],[-1.72,2.88],[-2.2,1.85],[-2.28,1.9],[-2.62,1.95],[-2.78,2.05],[-2.5,2.2],[-2.75,2.1],[-2.05,1.85],[-1.85,2.2],[-1.75,2.25]];
const cLavender = [[-2.85,3.4],[-2.7,3.38],[-2.55,3.38],[-2.45,3.3],[-3,3.38],[-2.9,3.27],[-2.75,3.3],[-2.6,3.28],[-2.48,3.22],[-2.35,3.25],[-3.2,3.25],[-3.05,3.22],[-2.92,3.2],[-2.78,3.18],[-2.63,3.15],[-2.5,3.1],[-2.37,3.13],[-3.3,3.18],[-3.15,3.12],[-3.02,3.1],[-2.88,3.08],[-2.72,3.05],[-2.58,3.02],[-2.45,3],[-2.33,3.03],[-3.55,3.14],[-3.45,3.17],[-3.28,3.02],[-3.12,2.98],[-2.98,2.97],[-2.85,2.95],[-2.7,2.92],[-2.55,2.9],[-2.42,2.88],[-2.2,2.95],[-2.25,2.85],[-2.92,2.85],[-2.78,2.82],[-2.62,2.78],[-2.5,2.75],[-2.35,2.73],[-2.9,2.72],[-2.72,2.68],[-2.58,2.65],[-2.45,2.62],[-2.95,2.6],[-2.8,2.58],[-2.65,2.52],[-3,2.5],[-2.92,2.45],[-2.9,2.2],[-3.2,2],[-3.2,1.85],[-3.75,1.78],[-2.48,1.7],[-3.22,1.9],
  [-2.98,3.3],[-2.65,3.22],[-3.08,3.16],[-2.8,3.12],[-2.44,3.08],[-3.2,3.05],[-2.92,3.02],[-2.65,2.97],[-2.38,2.95],[-2.8,2.9],[-2.55,2.82],[-2.42,2.72],[-2.85,2.77],[-2.65,2.7],[-2.52,2.58],[-2.72,2.6]];
const cPurple = [[-5.15,2.79],[-4.62,2.95],[-4.6,2.88],[-4.72,2.75],[-4.65,2.72],[-4.65,2.65],[-4.63,2.57],[-4.52,2.82],[-4.42,2.88],[-4.45,2.75],[-4.28,2.95],[-4.2,2.95],[-4.28,2.85],[-4.15,2.85],[-4.03,2.97],[-3.85,2.95],[-3.75,2.95],[-3.68,2.9],[-3.82,2.83],[-3.62,2.87],[-3.5,2.83],[-3.38,3.05],[-3.35,2.85],[-3.45,2.9],[-3.3,2.82],[-3,2.88],[-2.88,2.85],[-4.33,2.72],[-4.2,2.72],[-4.1,2.78],[-4,2.8],[-3.9,2.73],[-3.77,2.75],[-3.65,2.78],[-3.5,2.72],[-3.38,2.75],[-3.25,2.72],[-3.1,2.72],[-3,2.65],[-2.87,2.67],[-4.3,2.6],[-4.17,2.6],[-4.05,2.62],[-3.92,2.6],[-3.78,2.62],[-3.65,2.63],[-3.5,2.6],[-3.37,2.58],[-3.22,2.6],[-3.05,2.55],[-2.93,2.52],[-2.8,2.53],[-2.65,2.5],[-4.35,2.48],[-4.2,2.48],[-4.07,2.48],[-3.95,2.5],[-3.8,2.48],[-3.65,2.5],[-3.52,2.48],[-3.4,2.47],[-3.27,2.45],[-3.1,2.42],[-2.95,2.4],[-2.82,2.4],[-2.75,2.42],[-4.52,2.42],[-4.38,2.38],[-4.25,2.35],[-4.12,2.38],[-3.97,2.38],[-3.85,2.35],[-3.7,2.38],[-3.57,2.35],[-3.42,2.35],[-3.28,2.32],[-3.15,2.3],[-4.3,2.28],[-4.2,2.27],[-4.05,2.25],[-3.92,2.27],[-3.8,2.25],[-3.65,2.27],[-3.5,2.22],[-3.38,2.25],[-3.25,2.22],[-4.57,2.25],[-4.8,2.2],[-5.05,2.1],[-4,2.12],[-3.87,2.13],[-3.72,2.15],[-3.58,2.12],[-3.45,2.12],[-3.12,2.2],[-4,2.02],[-3.9,2.05],[-3.78,2.07],[-3.7,2.02],[-3.9,1.95],[-3.75,1.87],[-3.68,1.85],[-3.37,1.92],[-4.44,1.87],[-4.15,1.8],[-3.8,1.75],[-3.8,1.67],[-3.6,1.65],[-3.32,1.3],[-2.47,1.7],
  [-4.2,2.8],[-3.95,2.88],[-3.72,2.85],[-3.42,2.8],[-4.25,2.66],[-4,2.69],[-3.72,2.7],[-3.42,2.67],[-3.15,2.65],[-4.24,2.54],[-4,2.55],[-3.72,2.55],[-3.45,2.53],[-3.15,2.5],[-2.87,2.47],[-4.28,2.42],[-4.02,2.43],[-3.75,2.43],[-3.47,2.41],[-3.2,2.38],[-4.18,2.32],[-3.9,2.32],[-3.62,2.31],[-3.35,2.29],[-3.95,2.19],[-3.7,2.21],[-3.45,2.18],[-3.3,2.15]];
const cYellow = [[-1.15,2.93],[-1.25,2.82],[-1.12,2.82],[-1.42,2.8],[-1.55,2.75],[-1.65,2.72],[-1.28,2.7],[-1.15,2.7],[-1.05,2.75],[-1.38,2.65],[-1.5,2.65],[-1.62,2.6],[-1.75,2.62],[-1.88,2.63],[-2,2.55],[-2.12,2.6],[-1.28,2.55],[-1.42,2.5],[-1.55,2.5],[-1.68,2.47],[-1.8,2.48],[-1.92,2.45],[-2.07,2.47],[-2.2,2.5],[-2.3,2.42],[-1.3,2.42],[-1.4,2.38],[-1.53,2.38],[-1.65,2.35],[-1.78,2.35],[-1.9,2.33],[-2.02,2.35],[-2.15,2.35],[-2.28,2.32],[-2.42,2.38],[-2.55,2.45],[-1.38,2.32],[-1.53,2.25],[-1.65,2.22],[-1.8,2.22],[-1.92,2.22],[-2.05,2.22],[-2.18,2.2],[-2.3,2.2],[-2.42,2.22],[-2.55,2.27],[-2.68,2.27],[-1.7,2.12],[-1.82,2.1],[-1.95,2.1],[-2.08,2.12],[-2.2,2.08],[-2.33,2.1],[-2.45,2.12],[-2.58,2.12],[-2.7,2.15],[-1.72,2.03],[-1.85,2.03],[-2,2],[-2.15,2],[-2.3,1.98],[-2.45,2],[-2.58,2.02],[-2.72,2],[-2.85,2.05],[-2.95,2.02],[-3.05,2.03],[-1.9,2],[-2.05,1.93],[-2.3,1.88],[-2.5,1.88],[-2.62,1.85],[-2.78,1.88],[-2.9,1.92],[-3.03,1.95],[-2.02,1.87],[-2.15,1.85],[-2.88,1.78],[-3,1.87],[-3.3,1.72],[-2.95,1.68],[-3,1.62],[-3.33,1.53],[-3.3,1.4],[-2.97,1.47],[-3.75,1.3],[-2.75,1.2],[-3.67,1.98],[-3.45,2.02],[-2.15,1.55],
  [-1.35,2.76],[-1.6,2.67],[-1.22,2.63],[-1.45,2.58],[-1.72,2.55],[-1.98,2.62],[-2.18,2.55],[-1.6,2.43],[-1.85,2.41],[-2.1,2.41],[-2.35,2.37],[-1.45,2.44],[-1.6,2.3],[-1.85,2.28],[-2.1,2.28],[-2.35,2.27],[-2.6,2.35],[-1.75,2.17],[-2,2.16],[-2.25,2.15],[-2.5,2.17],[-2.62,2.2],[-1.95,2.05],[-2.22,2.05],[-2.5,2.07],[-2.78,2.08],[-2.4,1.95],[-2.68,1.93],[-2.95,1.97]];

const panelA = [aLightBlue, aBlue, aLightGreen, aGreen, aPink, aRed, aLightOrange, aOrange, aLavender, aPurple, aYellow];
const panelB = [bLightBlue, bBlue, bLightGreen, bGreen, bPink, bRed, bLightOrange, bOrange, bLavender, bPurple, bYellow];
const panelC = [cLightBlue, cBlue, cLightGreen, cGreen, cPink, cRed, cLightOrange, cOrange, cLavender, cPurple, cYellow];

const frame = {
  id: 'frame',
  afterDraw(chart) {
    const { ctx, chartArea: a } = chart;
    ctx.save();
    ctx.strokeStyle = '#222';
    ctx.lineWidth = 1.4;
    ctx.strokeRect(a.left, a.top, a.right - a.left, a.bottom - a.top);
    ctx.restore();
  }
};

const axisWidth = 70;
const axisHeight = 58;
const canvasTop = 40;

function axis(label, range, tickValues, digits, isY) {
  return {
    type: 'linear',
    min: range[0],
    max: range[1],
    afterBuildTicks: s => { s.ticks = tickValues.map(v => ({ value: v })); },
    afterFit: s => { if (isY) s.width = axisWidth; else s.height = axisHeight; },
    grid: { drawOnChartArea: false, drawTicks: true, tickLength: 5, tickColor: '#222', tickWidth: 1.2 },
    border: { display: false },
    ticks: {
      color: '#1a1a1a',
      font: { family: 'DejaVu Sans', size: 17 },
      maxRotation: 0,
      autoSkip: false,
      padding: isY ? 4 : 8,
      callback: v => v.toFixed(digits).replace('-', '\u2212')
    },
    title: {
      display: true,
      text: label,
      color: '#1a1a1a',
      font: { family: 'DejaVu Sans', size: 17 },
      padding: isY ? { top: 4, bottom: 0 } : { top: 0, bottom: 4 }
    }
  };
}

function drawPanel(id, groups, rect, xAxis, yAxis) {
  const canvas = document.getElementById(id);
  const width = rect.right - rect.left + axisWidth + 10;
  const height = rect.bottom - canvasTop + axisHeight;
  canvas.style.left = (rect.left - axisWidth) + 'px';
  canvas.style.top = canvasTop + 'px';
  canvas.width = width;
  canvas.height = height;
  canvas.style.width = width + 'px';
  canvas.style.height = height + 'px';
  // first dataset is painted last in Chart.js, so the list is reversed
  const datasets = groups.map((pts, i) => ({
    data: pts.map(p => ({ x: p[0], y: p[1] })),
    backgroundColor: seriesColors[i],
    borderColor: '#fff',
    borderWidth: 1,
    pointRadius: 5.5,
    pointHoverRadius: 5.5
  })).reverse();
  new Chart(canvas, {
    type: 'scatter',
    data: { datasets },
    options: {
      responsive: false,
      animation: false,
      devicePixelRatio: 1,
      layout: { padding: { top: rect.top - canvasTop, right: 10, left: 0, bottom: 0 } },
      plugins: { legend: { display: false }, tooltip: { enabled: false } },
      scales: { x: xAxis, y: yAxis }
    },
    plugins: [frame]
  });
}

// two no-break spaces pull the x titles a little left of the axis centre, as in the original
drawPanel('chartA', panelA, { left: 75.5, right: 419, top: 58, bottom: 397 },
  axis('- IP (eV)\u00a0\u00a0', [-8.71, -4.38], ipTicks, 0, false),
  axis('-  EA (eV)', [-5.38, -0.47], [-5, -4, -3, -2, -1], 0, true));
drawPanel('chartB', panelB, { left: 508.3, right: 851.7, top: 58, bottom: 397 },
  axis('- IP (eV)\u00a0\u00a0', [-8.715, -4.386], ipTicks, 0, false),
  axis('Optical Gap (eV)', [0.385, 4.18], gapTicks, 1, true));
drawPanel('chartC', panelC, { left: 940.7, right: 1284, top: 58, bottom: 397 },
  axis('- EA (eV)\u00a0\u00a0', [-5.39, -0.46], eaTicks, 0, false),
  axis('Optical Gap (eV)', [0.385, 4.18], gapTicks, 1, true));

// A-B block badges above each panel
function addDiv(cls, style, text) {
  const d = document.createElement('div');
  d.className = cls;
  d.style.cssText = style;
  if (text) d.textContent = text;
  document.body.appendChild(d);
}
function badge(barLeft, barRight, aLeft, bLeft, top) {
  addDiv('bar', `left:${barLeft}px;width:${barRight - barLeft}px;top:${top + 15}px`);
  addDiv('brace', `left:${barLeft + 5}px;top:${top - 1}px;border-right:0;border-radius:4px 0 0 4px`);
  addDiv('brace', `left:${barRight - 11}px;top:${top - 1}px;border-left:0;border-radius:0 4px 4px 0`);
  addDiv('box boxA', `left:${aLeft}px;top:${top}px`, 'A');
  addDiv('box boxB', `left:${bLeft}px;top:${top}px`, 'B');
}
badge(299, 416, 314, 365, 14);
badge(731, 848, 747, 797, 13);
badge(1163, 1285, 1179, 1230, 14);
addDiv('box boxA', 'left:88px;top:503px;font-size:33px', 'A');

// building blocks, coordinates in units of the drawing: 2.529 per px across, 3 per px down
const LEFT = 60, RIGHT = 660, TOP = 490;
const molecules = [
  { o: LEFT, line: '#d8cf86', text: '#f6ee8e',
    bonds: [[168,265,205,240],[235,240,268,268],[168,265,187,340],[187,340,252,340],[268,268,252,340],[268,268,333,268],[333,268,350,342],[350,342,415,340],[415,340,435,265],[435,265,400,240],[370,240,333,268],[252,340,285,372],[350,342,315,372],[300,410,300,458],[195,330,180,280],[415,330,425,280],[275,278,262,330],[326,278,340,330]],
    dashes: [[107,243,168,265],[495,243,435,265]],
    labels: [['S',218,230],['S',382,230],['N',299,390]] },
  { o: LEFT, line: '#c8622a', text: '#f5781f',
    bonds: [[677,275,712,250],[745,250,778,275],[677,275,695,348],[695,348,760,348],[778,275,760,348],[778,275,842,275],[842,275,858,348],[858,348,922,348],[922,348,940,275],[940,275,905,250],[875,250,842,275],[760,348,808,392],[858,348,808,392],[808,392,776,457],[808,392,840,457],[703,338,690,288],[922,338,932,288],[785,285,770,338],[835,285,850,338]],
    dashes: [[615,252,677,275],[1000,252,940,275]],
    labels: [['S',728,240],['S',890,240]] },
  { o: LEFT, line: '#b98450', text: '#fdbf6f',
    bonds: [[1245,233,1300,268],[1300,268,1300,345],[1300,345,1245,380],[1245,380,1190,345],[1190,345,1190,268],[1190,268,1245,233],[1245,248,1285,272],[1287,340,1250,365],[1203,340,1203,275],[1300,268,1335,245],[1358,210,1358,160],[1358,160,1420,145],[1420,145,1450,210],[1450,210,1410,263],[1410,263,1368,245]],
    dashes: [[1190,268,1135,232],[1245,380,1245,458]],
    labels: [['N',1350,238]] },
  { o: LEFT, line: '#86a46c', text: '#b2df8a',
    bonds: [[570,728,625,762],[625,762,625,838],[625,838,570,875],[570,875,516,838],[516,838,516,762],[516,762,570,728],[572,745,612,770],[612,832,572,858],[530,830,530,770],[516,762,462,727],[462,727,428,750],[468,738,434,760]],
    dashes: [[570,728,570,682],[570,875,570,950]],
    labels: [['O',410,773]] },
  { o: LEFT, line: '#1f5c88', text: '#1f78b4',
    bonds: [[1036,725,1090,760],[1090,760,1090,835],[1090,835,1036,872],[1036,872,982,835],[982,835,982,760],[982,760,1036,725],[1038,740,1077,765],[1077,828,1038,855],[996,828,996,768],[982,760,948,735],[1090,760,1122,735],[982,835,950,858],[1036,872,1036,925]],
    dashes: [[1036,725,1036,650],[1090,835,1148,875]],
    labels: [['F',930,728],['F',1143,728],['F',930,875],['F',1036,948]] },
  { o: LEFT, line: '#6a9cb4', text: '#8fcbe8',
    bonds: [[1577,727,1632,762],[1632,762,1632,838],[1632,838,1577,875],[1577,875,1523,838],[1523,838,1523,762],[1523,762,1577,727],[1580,742,1618,768],[1618,832,1580,858],[1536,830,1536,770],[1490,745,1523,762],[1470,680,1470,705],[1432,755,1450,742],[1436,765,1452,752]],
    dashes: [[1577,727,1577,650],[1523,838,1468,875]],
    labels: [['O',1470,657],['N',1470,728],['O',1413,765]],
    small: [['\u2212',1493,630],['+',1495,708]] },
  { o: RIGHT, line: '#ab1c20', text: '#b81d22',
    bonds: [[130,150,175,103],[175,103,237,125],[237,125,250,197],[250,197,205,245],[205,245,143,225],[143,225,130,150],[178,118,226,135],[237,190,203,228],[152,215,143,160],[250,197,312,218],[312,218,345,190],[378,190,407,218],[407,218,392,290],[392,290,327,290],[327,290,312,218],[322,225,335,280],[360,160,360,100],[407,218,450,203],[412,228,452,214],[327,290,312,360],[392,290,413,360],[385,300,400,350],[312,360,345,390],[413,360,378,392],[312,360,270,378],[308,350,268,366],[362,428,362,478],[413,360,475,380],[475,380,520,332],[520,332,580,355],[580,355,595,425],[595,425,545,475],[545,475,487,455],[487,455,475,380],[522,347,568,365],[582,420,545,460],[497,445,488,390]],
    dashes: [[70,128,130,150],[595,425,652,450]],
    labels: [['N',360,180],['O',467,200],['O',252,388],['N',360,408]] },
  { o: RIGHT, line: '#c47676', text: '#fb9a99',
    bonds: [[897,208,963,208],[963,208,990,270],[990,270,963,335],[963,335,897,335],[897,335,867,270],[867,270,897,208],[905,222,955,222],[975,270,955,225],[905,322,955,322],[888,165,897,208],[973,165,963,208],[885,385,897,335],[970,385,963,335],[892,378,905,335],[962,378,952,335]],
    dashes: [[802,270,867,270],[990,270,1055,270],[900,125,915,110],[962,125,945,110],[897,428,912,440],[958,428,942,440]],
    labels: [['S',930,100],['N',880,140],['N',982,140],['N',877,410],['N',977,410],['S',928,452]] },
  { o: RIGHT, line: '#2f8a3a', text: '#33a02c',
    bonds: [[1363,212,1418,248],[1418,248,1418,322],[1418,322,1363,358],[1363,358,1310,322],[1310,322,1310,248],[1310,248,1363,212],[1365,228,1405,254],[1405,316,1365,342],[1323,316,1323,254],[1418,248,1473,212],[1363,358,1363,436]],
    dashes: [[1310,248,1255,212],[1418,322,1473,360]],
    labels: [] },
  { o: RIGHT, line: '#4f3f96', text: '#6a58b0',
    bonds: [[483,730,547,730],[547,730,577,792],[577,792,547,855],[547,855,483,855],[483,855,453,792],[453,792,483,730],[490,745,540,745],[490,842,540,842],[563,792,541,745],[467,792,488,748],[483,730,465,660],[465,660,495,636],[530,636,565,660],[565,660,547,730],[465,660,425,642],[462,650,425,632],[565,660,605,642],[568,650,605,632],[483,855,465,930],[465,930,495,958],[530,958,565,930],[565,930,547,855],[465,930,425,952],[462,940,425,942],[565,930,605,952],[568,940,605,942]],
    dashes: [[388,792,453,792],[577,792,642,792]],
    labels: [['O',512,622],['O',405,640],['O',622,640],['O',513,972],['O',405,955],['O',622,955]] },
  { o: RIGHT, line: '#a99dc2', text: '#c6bade',
    bonds: [[1030,712,1058,707],[1088,725,1110,760],[1110,760,1078,820],[1078,820,1015,797],[1015,797,1015,748],[1028,790,1028,752],[1098,762,1070,808],[1078,820,1090,870],[1078,905,1062,925],[1068,900,1052,920],[1112,895,1135,905]],
    dashes: [[1110,760,1175,760],[1015,797,965,840]],
    labels: [['H',1075,658],['N',1075,705],['N',1015,727],['N',1095,893],['O',1155,908],['O',1052,945]],
    small: [['+',1120,866],['\u2212',1182,884]] }
];

const svg = document.getElementById('mols');
let markup = '';
molecules.forEach(m => {
  const px = x => (m.o + x / 2.529).toFixed(1);
  const py = y => (TOP + y / 3).toFixed(1);
  const seg = (b, extra) => `<line x1="${px(b[0])}" y1="${py(b[1])}" x2="${px(b[2])}" y2="${py(b[3])}" stroke="${m.line}" stroke-width="1.4" ${extra}/>`;
  m.bonds.forEach(b => { markup += seg(b, ''); });
  m.dashes.forEach(b => { markup += seg(b, 'stroke-dasharray="5 4"'); });
  m.labels.forEach(l => {
    markup += `<text x="${px(l[1])}" y="${py(l[2])}" fill="${m.text}" font-family="Liberation Sans" font-weight="700" font-size="20" text-anchor="middle" dominant-baseline="central">${l[0]}</text>`;
  });
  (m.small || []).forEach(l => {
    markup += `<text x="${px(l[1])}" y="${py(l[2])}" fill="${m.text}" font-family="Liberation Sans" font-weight="700" font-size="13" text-anchor="middle" dominant-baseline="central">${l[0]}</text>`;
  });
});
svg.innerHTML = markup;
</script>
</body>
</html>
